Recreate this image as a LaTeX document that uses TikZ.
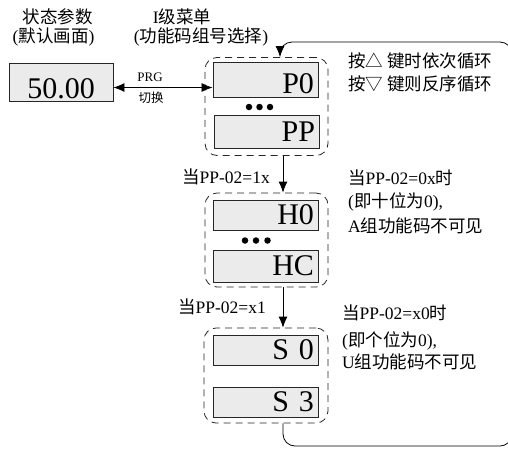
\documentclass[tikz,border=0pt]{standalone}
\usepackage{fontspec}
\setmainfont{Liberation Serif}
\newfontfamily\cjk{Noto Sans CJK SC}
\newcommand\zh[1]{{\cjk #1}}
\usetikzlibrary{arrows.meta}
\begin{document}
\begin{tikzpicture}[x=1pt,y=-1pt,
  dispbox/.style={draw=black!85, line width=0.9pt, fill=black!8, minimum width=105pt, inner xsep=4pt, inner ysep=0pt, text width=97pt, align=right, font=\fontsize{30}{30}\selectfont},
  grp/.style={draw=black!85, line width=0.8pt, dash pattern=on 7pt off 5pt, rounded corners=12pt},
  lbl/.style={font=\fontsize{17.5}{20}\selectfont, inner sep=0pt},
  arr/.style={-{Latex[length=11pt,width=9pt]}, line width=0.8pt},
  dotc/.style={circle, fill=black, inner sep=0pt, minimum size=6.5pt}]
\useasboundingbox (0,0) rectangle (508,448);
\fill[white] (0,0) rectangle (508,448);
\clip (0,0) rectangle (508,448);

% top captions
\node[lbl] (t1) at (57.5,17) {\zh{状态参数}};
\node[lbl] (t2) at (53.5,37) {(\zh{默认画面})};
\node[lbl] (t3) at (182,17) {I\zh{级菜单}};
\node[lbl] (t4) at (201,37) {(\zh{功能码组号选择})};

% default screen
\node[draw=black!85, line width=0.9pt, fill=black!8, minimum width=104pt, minimum height=38pt, inner sep=0pt, text height=31pt, text depth=0pt, font=\fontsize{30}{30}\selectfont] (fifty) at (61,82.5) {50.00};

% groups
\node[grp, minimum width=123pt, minimum height=98pt] (g1) at (266.5,106.5) {};
\node[grp, minimum width=123pt, minimum height=94pt] (g2) at (266.5,240) {};
\node[grp, minimum width=124pt, minimum height=95pt] (g3) at (266,375.5) {};

% display boxes
\node[dispbox, minimum height=35pt, text height=26pt, text depth=0pt] (p0) at (265.5,80) {P0};
\node[dispbox, minimum height=33pt] (pp) at (266.5,131.5) {PP};
\node[dispbox, minimum height=30pt] (h0) at (265.5,215) {H0};
\node[dispbox, minimum height=32pt] (hc) at (265.5,266) {HC};
\node[dispbox, minimum height=30pt] (s0) at (265.5,350) {S 0};
\node[dispbox, minimum height=30pt] (s3) at (265.5,402) {S 3};

% dots
\node[dotc] (d1) at (249,107) {};
\node[dotc] (d2) at (259.5,107) {};
\node[dotc] (d3) at (270,107) {};
\node[dotc] (d4) at (245,240.5) {};
\node[dotc] (d5) at (256,240.5) {};
\node[dotc] (d6) at (267.5,240.5) {};

% PRG arrow
\coordinate (ay) at (0,87.5);
\draw[{Latex[length=11pt,width=9pt]}-{Latex[length=11pt,width=9pt]}, line width=0.8pt] (fifty.east |- ay) -- (p0.west |- ay);
\node[font=\fontsize{13}{13}\selectfont, inner sep=0pt] (prg) at (150,77) {PRG};
\node[font=\cjk\fontsize{12.5}{13}\selectfont, inner sep=0pt] (qh) at (151,98) {切换};

% vertical arrows
\coordinate (ax) at (283,0);
\coordinate (lx) at (280,0);
\draw[arr] (g1.south -| ax) -- (g2.north -| ax);
\draw[arr] (g2.south -| ax) -- (g3.north -| ax);
\draw[arr, rounded corners=12pt] (g3.south -| ax) -- (283,446) -- (512,446) -- (512,42) -- (280,42) -- (g1.north -| lx);

% side texts
\node[lbl, anchor=west] (k1) at (348,61) {\zh{按△ 键时依次循环}};
\node[lbl, anchor=west] (k2) at (348,84) {\zh{按▽ 键则反序循环}};
\node[lbl, anchor=west] (c1) at (182,177) {\zh{当}PP-02=1x};
\node[lbl, anchor=west] (r1a) at (348,178) {\zh{当}PP-02=0x\zh{时}};
\node[lbl, anchor=west] (r1b) at (348,202) {(\zh{即十位为}0),};
\node[lbl, anchor=west] (r1c) at (348,226) {A\zh{组功能码不可见}};
\node[lbl, anchor=west] (c2) at (178,307) {\zh{当}PP-02=x1};
\node[lbl, anchor=west] (r2a) at (342,313) {\zh{当}PP-02=x0\zh{时}};
\node[lbl, anchor=west] (r2b) at (342,341) {(\zh{即个位为}0),};
\node[lbl, anchor=west] (r2c) at (342,362) {U\zh{组功能码不可见}};
\end{tikzpicture}
\end{document}
